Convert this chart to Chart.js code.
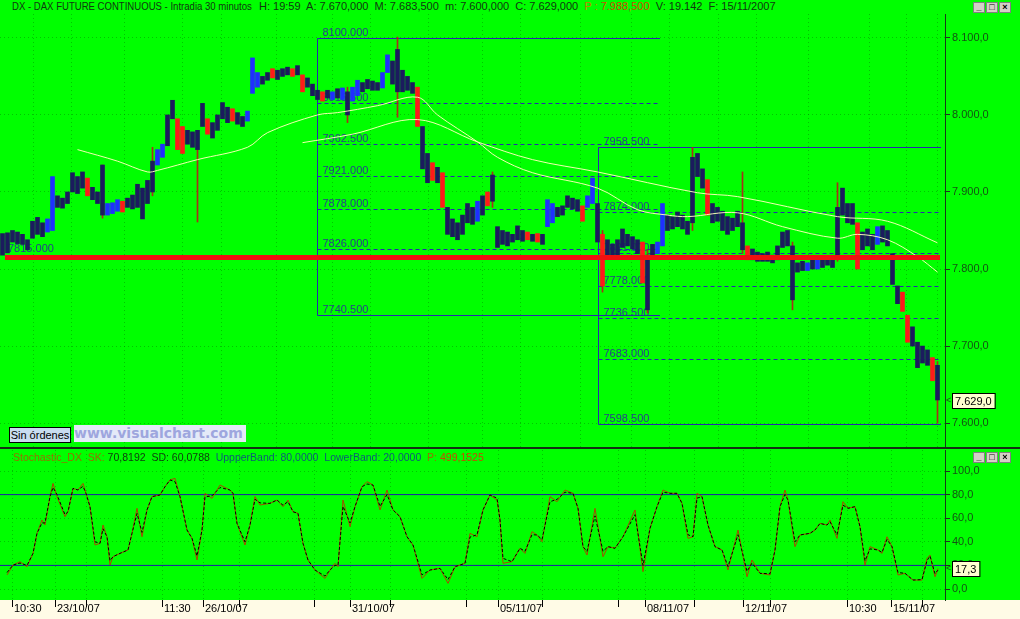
<!DOCTYPE html>
<html>
<head>
<meta charset="utf-8">
<script src="https://cdn.jsdelivr.net/npm/chart.js@4.4.0/dist/chart.umd.min.js"></script>
<style>
    body { margin: 0; background: #00ff00; }
    #wrap { position: relative; width: 1020px; height: 619px; overflow: hidden; background: #00ff00; font-family: "Liberation Sans", Arial, sans-serif; }
    .txt { position: absolute; font-size: 11px; line-height: 13px; white-space: nowrap; color: #103810; }
    .btns { position: absolute; display: flex; gap: 1px; }
    .btns span { display: inline-block; width: 12px; height: 11px; background: #d4d0c8; border: 1px solid #808080; box-sizing: border-box; font: bold 9px/9px Arial, sans-serif; text-align: center; color: #000; }
    canvas { position: absolute; left: 0; }
</style>
</head>
<body>
<div id="wrap">
    <div class="txt" style="left:12px;top:0px;transform:scaleX(0.87);transform-origin:0 0">DX - DAX FUTURE CONTINUOUS - Intradia 30 minutos</div>
    <div class="txt" style="left:259px;top:0px">H: 19:59&nbsp; A: 7.670,000&nbsp; M: 7.683,500&nbsp; m: 7.600,000&nbsp; C: 7.629,000&nbsp; <span style="color:#c08000">P :</span> <span style="color:#d04a00">7.988,500</span>&nbsp; V: 19.142&nbsp; F: 15/11/2007</div>
    <div class="btns" style="left:973px;top:2px"><span>_</span><span>□</span><span>×</span></div>
    <canvas id="price-chart" style="top:14px" width="1020" height="433"></canvas>
    <div style="position:absolute;left:9px;top:427px;width:62px;height:16px;box-sizing:border-box;border:1px solid #000;background:#c8dcf0;font-size:11px;line-height:14px;text-align:center;color:#000">Sin órdenes</div>
    <div style="position:absolute;left:74px;top:425px;width:172px;height:17px;background:#e4eaf8;font:bold 14px/17px 'DejaVu Sans', Verdana, sans-serif;color:#9ea6de;white-space:nowrap;overflow:hidden">www.visualchart.com</div>
    <div style="position:absolute;left:0;top:447px;width:1020px;height:2px;background:#143014"></div>
    <canvas id="stoch-chart" style="top:449px" width="1020" height="170"></canvas>
    <div class="txt" style="left:13px;top:451px;transform:scaleX(0.955);transform-origin:0 0"><span style="color:#957000">Stochastic_DX&nbsp; SK:</span> 70,8192&nbsp; SD: 60,0788&nbsp; <span style="color:#0e5a78">UppperBand: 80,0000&nbsp; LowerBand: 20,0000</span>&nbsp; <span style="color:#957000">P:</span> <span style="color:#c84a00">499,1525</span></div>
    <div class="btns" style="left:973px;top:452px"><span>_</span><span>□</span><span>×</span></div>
</div>
<script>
// half-hour bars, index 0 = first bar on the left
const candleHigh = [
    7846, 7847, 7850, 7848, 7845, 7838, 7862, 7867, 7860, 7865,
    7920, 7895, 7892, 7900, 7925, 7920, 7926, 7918, 7906, 7900,
    7935, 7885, 7886, 7890, 7888, 7892, 7896, 7910, 7905, 7915,
    7940, 7955, 7962, 8000, 8019, 7995, 7985, 7980, 7978, 7980,
    8015, 7995, 7990, 8000, 8016, 8010, 8008, 8003, 7998, 8005,
    8074, 8055, 8050, 8055, 8060, 8058, 8060, 8062, 8060, 8064,
    8052, 8048, 8040, 8032, 8030, 8032, 8030, 8034, 8035, 8030,
    8036, 8045, 8042, 8046, 8044, 8042, 8055, 8078, 8070, 8085,
    8058, 8050, 8042, 8036, 7985, 7950, 7938, 7932, 7925, 7880,
    7865, 7860, 7870, 7885, 7880, 7888, 7895, 7900, 7922, 7855,
    7850, 7848, 7845, 7856, 7850, 7848, 7845, 7846, 7845, 7890,
    7885, 7880, 7882, 7895, 7892, 7890, 7882, 7895, 7918, 7885,
    7845, 7838, 7832, 7838, 7852, 7845, 7842, 7838, 7835, 7818,
    7832, 7835, 7885, 7870, 7868, 7874, 7870, 7862, 7945, 7950,
    7930, 7916, 7885, 7880, 7875, 7868, 7866, 7875, 7860, 7830,
    7826, 7822, 7820, 7822, 7818, 7830, 7848, 7850, 7830, 7808,
    7810, 7808, 7812, 7815, 7812, 7815, 7812, 7880, 7905, 7885,
    7885, 7860, 7848, 7852, 7845, 7855, 7856, 7850, 7820, 7778,
    7770, 7740, 7725, 7705, 7700, 7695, 7685, 7675
];
const candleLow = [
    7818, 7821, 7835, 7833, 7832, 7825, 7840, 7845, 7842, 7848,
    7850, 7880, 7879, 7885, 7900, 7898, 7905, 7895, 7890, 7885,
    7870, 7870, 7872, 7875, 7874, 7880, 7878, 7880, 7865, 7885,
    7900, 7935, 7945, 7960, 7995, 7955, 7950, 7962, 7958, 7955,
    7985, 7975, 7970, 7980, 7995, 7990, 7992, 7988, 7985, 7992,
    8028, 8036, 8040, 8045, 8048, 8046, 8050, 8052, 8050, 8052,
    8030, 8036, 8025, 8020, 8018, 8022, 8020, 8022, 8020, 8000,
    8018, 8025, 8030, 8034, 8032, 8032, 8035, 8055, 8040, 8030,
    8030, 8032, 8028, 7985, 7930, 7912, 7915, 7912, 7880, 7845,
    7842, 7838, 7845, 7860, 7858, 7862, 7870, 7882, 7888, 7828,
    7832, 7830, 7835, 7838, 7836, 7838, 7836, 7835, 7832, 7855,
    7860, 7868, 7870, 7880, 7878, 7875, 7862, 7880, 7885, 7835,
    7778, 7818, 7815, 7818, 7828, 7830, 7826, 7820, 7782, 7747,
    7815, 7820, 7830, 7850, 7852, 7855, 7852, 7845, 7860, 7920,
    7905, 7870, 7860, 7862, 7850, 7845, 7850, 7855, 7825, 7812,
    7812, 7810, 7810, 7810, 7808, 7812, 7828, 7830, 7760, 7796,
    7798, 7798, 7800, 7800, 7802, 7805, 7802, 7815, 7870, 7860,
    7858, 7800, 7825, 7830, 7825, 7832, 7835, 7830, 7780, 7755,
    7745, 7705, 7700, 7672, 7678, 7675, 7655, 7630
];
// n = navy, r = red, b = blue
const candleTone = ('nnnnnnnnnb' + 'bnnnnnnrnn' + 'nbbbrnnnnn' + 'nbbnnrrnnn' + 'nrnnnnrnnb' +
    'bbnnrnnnrn' + 'rnnnrnbnbn' + 'bbnnnnbbnn' + 'nnnrnnrnrn' + 'nnnnnbnrnn' +
    'nnnnnrnrnb' + 'bnnnnnrbbn' + 'rnnnnnnnrn' + 'nbbnnnnnnn' + 'nrnnnnnnnr' +
    'nnnnnnnnnn' + 'nbnbnnnnnn' + 'nrnnnbnnnn' + 'rrnnnnrn').split('');

const wickIdx = [20, 30, 39, 69, 79, 98, 120, 129, 138, 148, 158, 167, 187];
const wickLow = [7866, 7895, 7861, 7990, 7997, 7880, 7770, 7743, 7850, 7820, 7747, 7810, 7600];
const wickHigh = [7935, 7958, 7960, 8036, 8101, 7926, 7850, 7825, 7958, 7926, 7835, 7912, 7680];

const fastMaIdx = [15, 23, 29, 31, 39, 49, 53, 63, 67, 75, 83, 87, 95, 99, 106, 119, 127, 133, 137, 147, 156, 167, 171, 177, 183, 187];
const fastMaVal = [7955, 7940, 7926, 7928, 7942, 7958, 7977, 8000, 8003, 8012, 8023, 8000, 7965, 7945, 7925, 7905, 7877, 7870, 7868, 7873, 7855, 7840, 7845, 7838, 7816, 7796];
const slowMaIdx = [60, 70, 83, 95, 106, 119, 139, 147, 167, 177, 187];
const slowMaVal = [7964, 7975, 7994, 7965, 7942, 7926, 7899, 7894, 7868, 7862, 7834];

const supportLevel = 7815;
const supportSpan = [0.5, 187.5];
const lastPrice = 7629;

const fibASpan = [62.9, 131.5];
const fibALevels = [8100, 8015.5, 7962.5, 7921, 7878, 7826, 7740.5];
const fibALabels = ['8100.000', '8015.500', '7962.500', '7921.000', '7878.000', '7826.000', '7740.500'];
const fibBSpan = [119.1, 187.7];
const fibBLevels = [7958.5, 7874, 7821, 7778, 7736.5, 7683, 7598.5];
const fibBLabels = ['7958.500', '7874.000', '7821.000', '7778.000', '7736.500', '7683.000', '7598.500'];

const stochIdx = [
    0.9, 2.1, 3.5, 4.9, 6.1, 6.9, 7.9, 8.5, 9.5, 10.1,
    10.9, 12.5, 13.1, 14.1, 15.1, 16.1, 16.7, 17.5, 18.5, 19.5,
    20.1, 20.9, 21.5, 22.1, 23.5, 25.1, 25.9, 26.9, 27.9, 28.9,
    29.9, 31.5, 32.5, 33.5, 34.5, 35.5, 36.9, 37.9, 38.9, 39.9,
    40.5, 41.9, 43.5, 45.5, 46.1, 46.9, 48.5, 49.5, 50.5, 51.5,
    53.5, 54.9, 56.1, 57.1, 58.1, 59.1, 60.1, 61.1, 62.5, 64.5,
    65.5, 66.5, 67.1, 68.1, 69.5, 70.5, 71.9, 72.9, 74.1, 75.5,
    76.9, 78.1, 79.5, 80.9, 82.1, 83.9, 85.5, 87.5, 89.1, 90.5,
    92.5, 93.5, 94.9, 96.1, 97.5, 98.9, 99.5, 100.1, 101.9, 103.5,
    104.5, 105.9, 106.9, 107.9, 109.5, 110.9, 112.5, 114.1, 115.1, 116.1,
    116.9, 118.5, 120.1, 121.1, 122.5, 124.1, 126.5, 128.1, 129.5, 130.9,
    132.1, 133.5, 134.9, 135.9, 137.1, 138.1, 138.9, 139.9, 141.1, 142.5,
    143.9, 145.1, 147.1, 148.9, 149.9, 151.5, 153.5, 154.5, 155.5, 156.5,
    157.1, 158.5, 159.5, 161.5, 162.5, 163.5, 164.9, 165.5, 166.9, 168.1,
    169.1, 170.5, 171.5, 172.5, 173.5, 175.1, 175.9, 176.9, 177.9, 179.1,
    180.5, 182.1, 183.9, 184.9, 185.5, 186.5, 187.1
];
const stochK = [
    11.9, 20.3, 23.2, 18.9, 30.2, 47.2, 58.5, 54.2, 78.3, 89.5,
    78.3, 61.3, 65.5, 85.3, 83.9, 89.5, 81.1, 69.8, 37.3, 38.7,
    54.2, 44.3, 20.3, 27.4, 30.2, 33.1, 47.2, 68.4, 44.3, 67,
    78.3, 79.7, 86.7, 92.4, 93.8, 78.3, 50, 43, 24.6, 50,
    81.1, 76.8, 88.1, 83.9, 81.1, 55.6, 37.3, 54.2, 78.3, 71.2,
    72.6, 75.4, 69.8, 75.4, 65.5, 64.1, 38.7, 24.6, 16.1, 9,
    16.1, 21.8, 18.9, 75.4, 52.8, 69.8, 86.7, 91, 88.1, 67,
    83.9, 67, 61.3, 44.3, 37.3, 9, 16.1, 17.5, 4.8, 18.9,
    21.8, 47.2, 44.3, 67, 79.7, 75.4, 58.5, 21.8, 23.2, 34.5,
    30.2, 48.6, 45.8, 40.1, 78.3, 74, 83.9, 81.1, 68.4, 35.9,
    28.8, 68.4, 27.4, 35.9, 34.5, 44.3, 67, 14.7, 51.4, 69.8,
    83.9, 81.1, 81.1, 72.6, 42.9, 44.3, 81.1, 78.3, 54.2, 35.9,
    33.1, 16.1, 50, 10.4, 24.6, 13.3, 11.9, 33.1, 69.8, 83.9,
    75.4, 35.9, 45.8, 47.2, 50, 55.6, 54.2, 58.5, 42.9, 74,
    68.4, 69.8, 52.8, 20.3, 35.9, 33.1, 30.2, 44.3, 35.9, 11.9,
    13.3, 7.6, 7.6, 26, 28.8, 10.4, 17.3
];
const stochD = [
    14, 20.3, 22, 20, 30.2, 47.2, 56, 56, 78.3, 86,
    80, 63, 65.5, 85.3, 83.9, 87, 81.1, 69.8, 40, 38.7,
    51, 44.3, 24, 27.4, 30.2, 33.1, 47.2, 64, 48, 67,
    78.3, 79.7, 86.7, 92.4, 91, 78.3, 50, 43, 28, 50,
    78, 79, 86, 83.9, 81.1, 55.6, 40, 54.2, 76, 73,
    72.6, 75.4, 71, 74, 65.5, 64.1, 38.7, 24.6, 16.1, 11,
    16.1, 20, 20, 70, 56, 69.8, 86.7, 89, 88.1, 70,
    80, 67, 61.3, 44.3, 37.3, 12, 16.1, 17.5, 8, 18.9,
    21.8, 44, 46, 67, 79.7, 77, 58.5, 26, 23.2, 34.5,
    32, 46, 45.8, 42, 74, 76, 82, 81.1, 68.4, 35.9,
    32, 62, 32, 35.9, 34.5, 44.3, 63, 20, 51.4, 69.8,
    82, 81.1, 81.1, 72.6, 46, 44.3, 77, 78.3, 54.2, 35.9,
    33.1, 19, 46, 15, 22, 13.3, 13, 33.1, 69.8, 80,
    75.4, 40, 45.8, 47.2, 50, 55.6, 54.2, 57, 46, 71,
    68.4, 69.8, 52.8, 24, 34, 33.1, 31, 42, 35.9, 14,
    13.3, 7.6, 8, 24, 28, 13, 16
];
const upperBand = 80;
const lowerBand = 20;
const lastStoch = 17.3;

const dateTickIdx = [1.9, 10.5, 16.9, 31.9, 40.1, 47.3, 62.3, 69.5, 77.5, 92.7, 99.1, 107.9, 123.1, 128.5, 138.3, 148.1, 153.5, 168.9, 177.7, 183.9];
const dateTickText = ['10:30', '23/10/07', '', '11:30', '26/10/07', '', '', '31/10/07', '', '', '05/11/07', '', '', '08/11/07', '', '12/11/07', '', '10:30', '15/11/07', ''];

const toneColor = { n: '#1b1b5e', r: '#ff1a1a', b: '#1f2fff' };
const axisFont = { family: '"Liberation Sans", Arial, sans-serif', size: 11 };
const plotRange = { min: -0.5, max: 188.5 };
const gridDots = 'rgba(0, 110, 0, 0.4)';

const priceLabel = function (v) {
    const whole = Math.round(v);
    return Math.floor(whole / 1000) + '.' + String(whole % 1000).padStart(3, '0') + ',0';
};

const valueBox = function (chart, value, text) {
    const { ctx, chartArea, scales: { y } } = chart;
    const py = Math.round(y.getPixelForValue(value));
    ctx.save();
    ctx.font = '11px "Liberation Sans", Arial, sans-serif';
    const bw = ctx.measureText(text).width + 6;
    ctx.fillStyle = '#ffffd0';
    ctx.fillRect(chartArea.right + 7, py - 8, bw, 16);
    ctx.strokeStyle = '#000';
    ctx.lineWidth = 1;
    ctx.strokeRect(chartArea.right + 7.5, py - 7.5, bw, 15);
    ctx.fillStyle = '#000';
    ctx.textBaseline = 'middle';
    ctx.fillText(text, chartArea.right + 10, py + 1);
    ctx.fillStyle = '#145214';
    ctx.font = '9px "Liberation Sans", Arial, sans-serif';
    ctx.fillText('<', chartArea.right + 1, py);
    ctx.restore();
};

const drawFib = function (chart, span, levels, labels) {
    const { ctx, scales: { x, y } } = chart;
    const x0 = Math.round(x.getPixelForValue(span[0])) + 0.5;
    const x1 = Math.round(x.getPixelForValue(span[1]));
    ctx.save();
    ctx.lineWidth = 1;
    ctx.strokeStyle = '#2828b0';
    ctx.font = '11px "Liberation Sans", Arial, sans-serif';
    ctx.fillStyle = '#27408b';
    levels.forEach(function (lv, i) {
        const py = Math.round(y.getPixelForValue(lv)) + 0.5;
        ctx.setLineDash(i === 0 || i === levels.length - 1 ? [] : [4, 3]);
        ctx.beginPath();
        ctx.moveTo(x0, py);
        ctx.lineTo(x1, py);
        ctx.stroke();
        ctx.fillText(labels[i], x0 + 5, py - 3);
    });
    ctx.setLineDash([]);
    ctx.beginPath();
    ctx.moveTo(x0, Math.round(y.getPixelForValue(levels[0])) + 0.5);
    ctx.lineTo(x0, Math.round(y.getPixelForValue(levels[levels.length - 1])) + 0.5);
    ctx.stroke();
    ctx.restore();
};

const pricePlugin = {
    id: 'priceExtras',
    beforeDatasetsDraw: function (chart) {
        drawFib(chart, fibASpan, fibALevels, fibALabels);
        drawFib(chart, fibBSpan, fibBLevels, fibBLabels);
        const { ctx, scales: { x, y } } = chart;
        ctx.save();
        ctx.font = '11px "Liberation Sans", Arial, sans-serif';
        ctx.fillStyle = '#27408b';
        ctx.fillText('7815.000', x.getPixelForValue(supportSpan[0]) + 3, y.getPixelForValue(supportLevel) - 5);
        ctx.restore();
    },
    afterDraw: function (chart) {
        valueBox(chart, lastPrice, priceLabel(lastPrice));
    }
};

const stochPlugin = {
    id: 'stochExtras',
    beforeDraw: function (chart) {
        const { ctx, chartArea } = chart;
        ctx.save();
        ctx.fillStyle = '#fffbe6';
        ctx.fillRect(0, chartArea.bottom, chart.width, chart.height - chartArea.bottom);
        ctx.restore();
    },
    afterDraw: function (chart) {
        valueBox(chart, lastStoch, lastStoch.toFixed(1).replace('.', ','));
    }
};

// fixed axis width, and no extra room for the half labels at the ends
const fixedWidth = function (scale) {
    scale.width = 75;
    scale.paddingTop = 0;
    scale.paddingBottom = 0;
};
const dateTicks = function (scale) { scale.ticks = dateTickIdx.map(v => ({ value: v })); };

new Chart(document.getElementById('price-chart'), {
    type: 'bar',
    data: {
        datasets: [
            {
                type: 'line',
                data: [{ x: supportSpan[0], y: supportLevel }, { x: supportSpan[1], y: supportLevel }],
                borderColor: '#f01010',
                borderWidth: 5,
                pointRadius: 0,
                order: 0
            },
            {
                type: 'line',
                data: fastMaIdx.map((v, i) => ({ x: v, y: fastMaVal[i] })),
                borderColor: 'rgba(255, 255, 185, 0.95)',
                borderWidth: 1,
                pointRadius: 0,
                tension: 0.35,
                order: 1
            },
            {
                type: 'line',
                data: slowMaIdx.map((v, i) => ({ x: v, y: slowMaVal[i] })),
                borderColor: 'rgba(255, 255, 185, 0.95)',
                borderWidth: 1,
                pointRadius: 0,
                tension: 0.35,
                order: 1
            },
            {
                data: candleHigh.map((h, i) => ({ x: i, y: [candleLow[i], h] })),
                backgroundColor: candleTone.map(t => toneColor[t]),
                barThickness: 4,
                grouped: false,
                order: 2
            },
            {
                data: wickIdx.map((v, i) => ({ x: v, y: [wickLow[i], wickHigh[i]] })),
                backgroundColor: '#a8301a',
                barThickness: 1,
                grouped: false,
                order: 3
            }
        ]
    },
    options: {
        responsive: false,
        animation: false,
        events: [],
        layout: { padding: 0, autoPadding: false },
        plugins: { legend: { display: false }, tooltip: { enabled: false } },
        scales: {
            x: {
                type: 'linear',
                min: plotRange.min,
                max: plotRange.max,
                offset: false,
                afterBuildTicks: dateTicks,
                afterFit: function (scale) { scale.height = 0; scale.paddingLeft = 0; scale.paddingRight = 0; },
                ticks: { display: false },
                grid: { color: gridDots, drawTicks: false },
                border: { display: false, dash: [1, 3] }
            },
            y: {
                position: 'right',
                min: 7569,
                max: 8131,
                afterFit: fixedWidth,
                ticks: { stepSize: 100, includeBounds: false, color: '#145214', font: axisFont, padding: 2, callback: priceLabel },
                grid: { color: gridDots, tickColor: '#1a3a1a', tickLength: 5 },
                border: { display: true, color: '#1a3a1a', width: 1, dash: [1, 3] }
            }
        }
    },
    plugins: [pricePlugin]
});

new Chart(document.getElementById('stoch-chart'), {
    type: 'line',
    data: {
        datasets: [
            {
                data: stochIdx.map((v, i) => ({ x: v, y: stochD[i] })),
                borderColor: '#000000',
                borderWidth: 1,
                borderDash: [3, 2],
                pointRadius: 0,
                order: 0
            },
            {
                data: stochIdx.map((v, i) => ({ x: v, y: stochK[i] })),
                borderColor: '#a84800',
                borderWidth: 1,
                pointRadius: 0,
                order: 1
            },
            {
                data: [{ x: plotRange.min, y: upperBand }, { x: plotRange.max, y: upperBand }],
                borderColor: '#1c1ca8',
                borderWidth: 1,
                pointRadius: 0,
                order: 2
            },
            {
                data: [{ x: plotRange.min, y: lowerBand }, { x: plotRange.max, y: lowerBand }],
                borderColor: '#1c1ca8',
                borderWidth: 1,
                pointRadius: 0,
                order: 2
            }
        ]
    },
    options: {
        responsive: false,
        animation: false,
        events: [],
        layout: { padding: { top: 1 }, autoPadding: false },
        plugins: { legend: { display: false }, tooltip: { enabled: false } },
        scales: {
            x: {
                type: 'linear',
                min: plotRange.min,
                max: plotRange.max,
                afterFit: function (scale) { scale.height = 19; scale.paddingLeft = 0; scale.paddingRight = 0; },
                afterBuildTicks: dateTicks,
                ticks: {
                    autoSkip: false,
                    maxRotation: 0,
                    align: 'start',
                    labelOffset: 2,
                    padding: -5,
                    color: '#000',
                    font: axisFont,
                    callback: function (v) { const k = dateTickIdx.indexOf(v); return k >= 0 ? dateTickText[k] : ''; }
                },
                grid: { color: gridDots, tickColor: '#000', tickLength: 7, tickBorderDash: [] },
                border: { display: false, dash: [1, 3] }
            },
            y: {
                position: 'right',
                min: -9.3,
                max: 117.8,
                afterFit: fixedWidth,
                ticks: { stepSize: 20, includeBounds: false, color: '#145214', font: axisFont, padding: 2, callback: v => v.toFixed(1).replace('.', ',') },
                grid: { color: gridDots, tickColor: '#1a3a1a', tickLength: 5 },
                border: { display: true, color: '#1a3a1a', width: 1, dash: [1, 3] }
            }
        }
    },
    plugins: [stochPlugin]
});
</script>
</body>
</html>
